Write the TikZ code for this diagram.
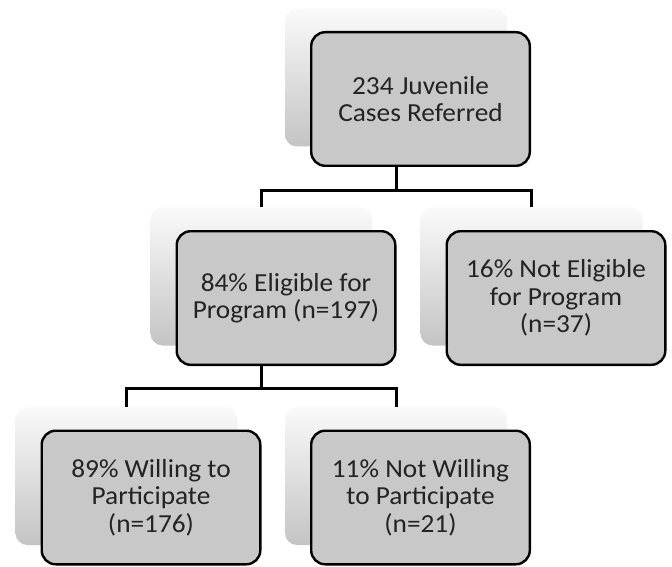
\documentclass[tikz,border=0pt]{standalone}
\usepackage{fontspec}
\setmainfont[FakeStretch=1.05]{Carlito}
\definecolor{frontgray}{RGB}{200,200,200}
\definecolor{txtgray}{RGB}{35,35,35}
\definecolor{shadtop}{RGB}{250,250,250}
\definecolor{shadbot}{RGB}{196,196,196}
\tikzset{
  shadowbox/.style={rectangle, rounded corners=12pt, minimum width=222pt,
    minimum height=138pt, inner sep=0pt, top color=shadtop, bottom color=shadbot, draw=none},
  frontbox/.style={rectangle, rounded corners=14pt, draw=black, line width=2.4pt,
    fill=frontgray, minimum width=218.6pt, minimum height=133.6pt, inner sep=2pt,
    align=center, text=txtgray, font=\fontsize{26}{27.5}\selectfont},
  conn/.style={draw=black, line width=3pt},
}
\begin{document}
\begin{tikzpicture}[x=1pt,y=-1pt]
\useasboundingbox (0,0) rectangle (672,567);
% top
\node[shadowbox] (sA) at (396,77.5) {};
\node[frontbox] (A) at ([shift={(24.5,21.5)}]sA.center) {234 Juvenile\\Cases Referred};
% middle
\node[shadowbox] (sB) at (261.5,276.5) {};
\node[frontbox] (B) at ([shift={(24.5,21.5)}]sB.center) {84\% Eligible for\\Program (n=197)};
\node[shadowbox] (sC) at (531.5,276.5) {};
\node[frontbox] (C) at ([shift={(24.5,21.5)}]sC.center) {16\% Not Eligible\\for Program\\(n=37)};
% bottom
\node[shadowbox] (sD) at (126.5,476) {};
\node[frontbox] (D) at ([shift={(24.5,21.5)}]sD.center) {89\% Willing to\\Participate\\(n=176)};
\node[shadowbox] (sE) at (396,476) {};
\node[frontbox] (E) at ([shift={(24.5,21.5)}]sE.center) {11\% Not Willing\\to Participate\\(n=21)};
% connectors
\coordinate (j1) at (396,190);
\draw[conn] (A.south -| sA.south) -- (j1);
\draw[conn] (sB.north) |- (j1) -| (sC.north);
\coordinate (j2) at (261.5,388);
\draw[conn] (B.south -| sB.south) -- (j2);
\draw[conn] (sD.north) |- (j2) -| (sE.north);
\end{tikzpicture}
\end{document}
